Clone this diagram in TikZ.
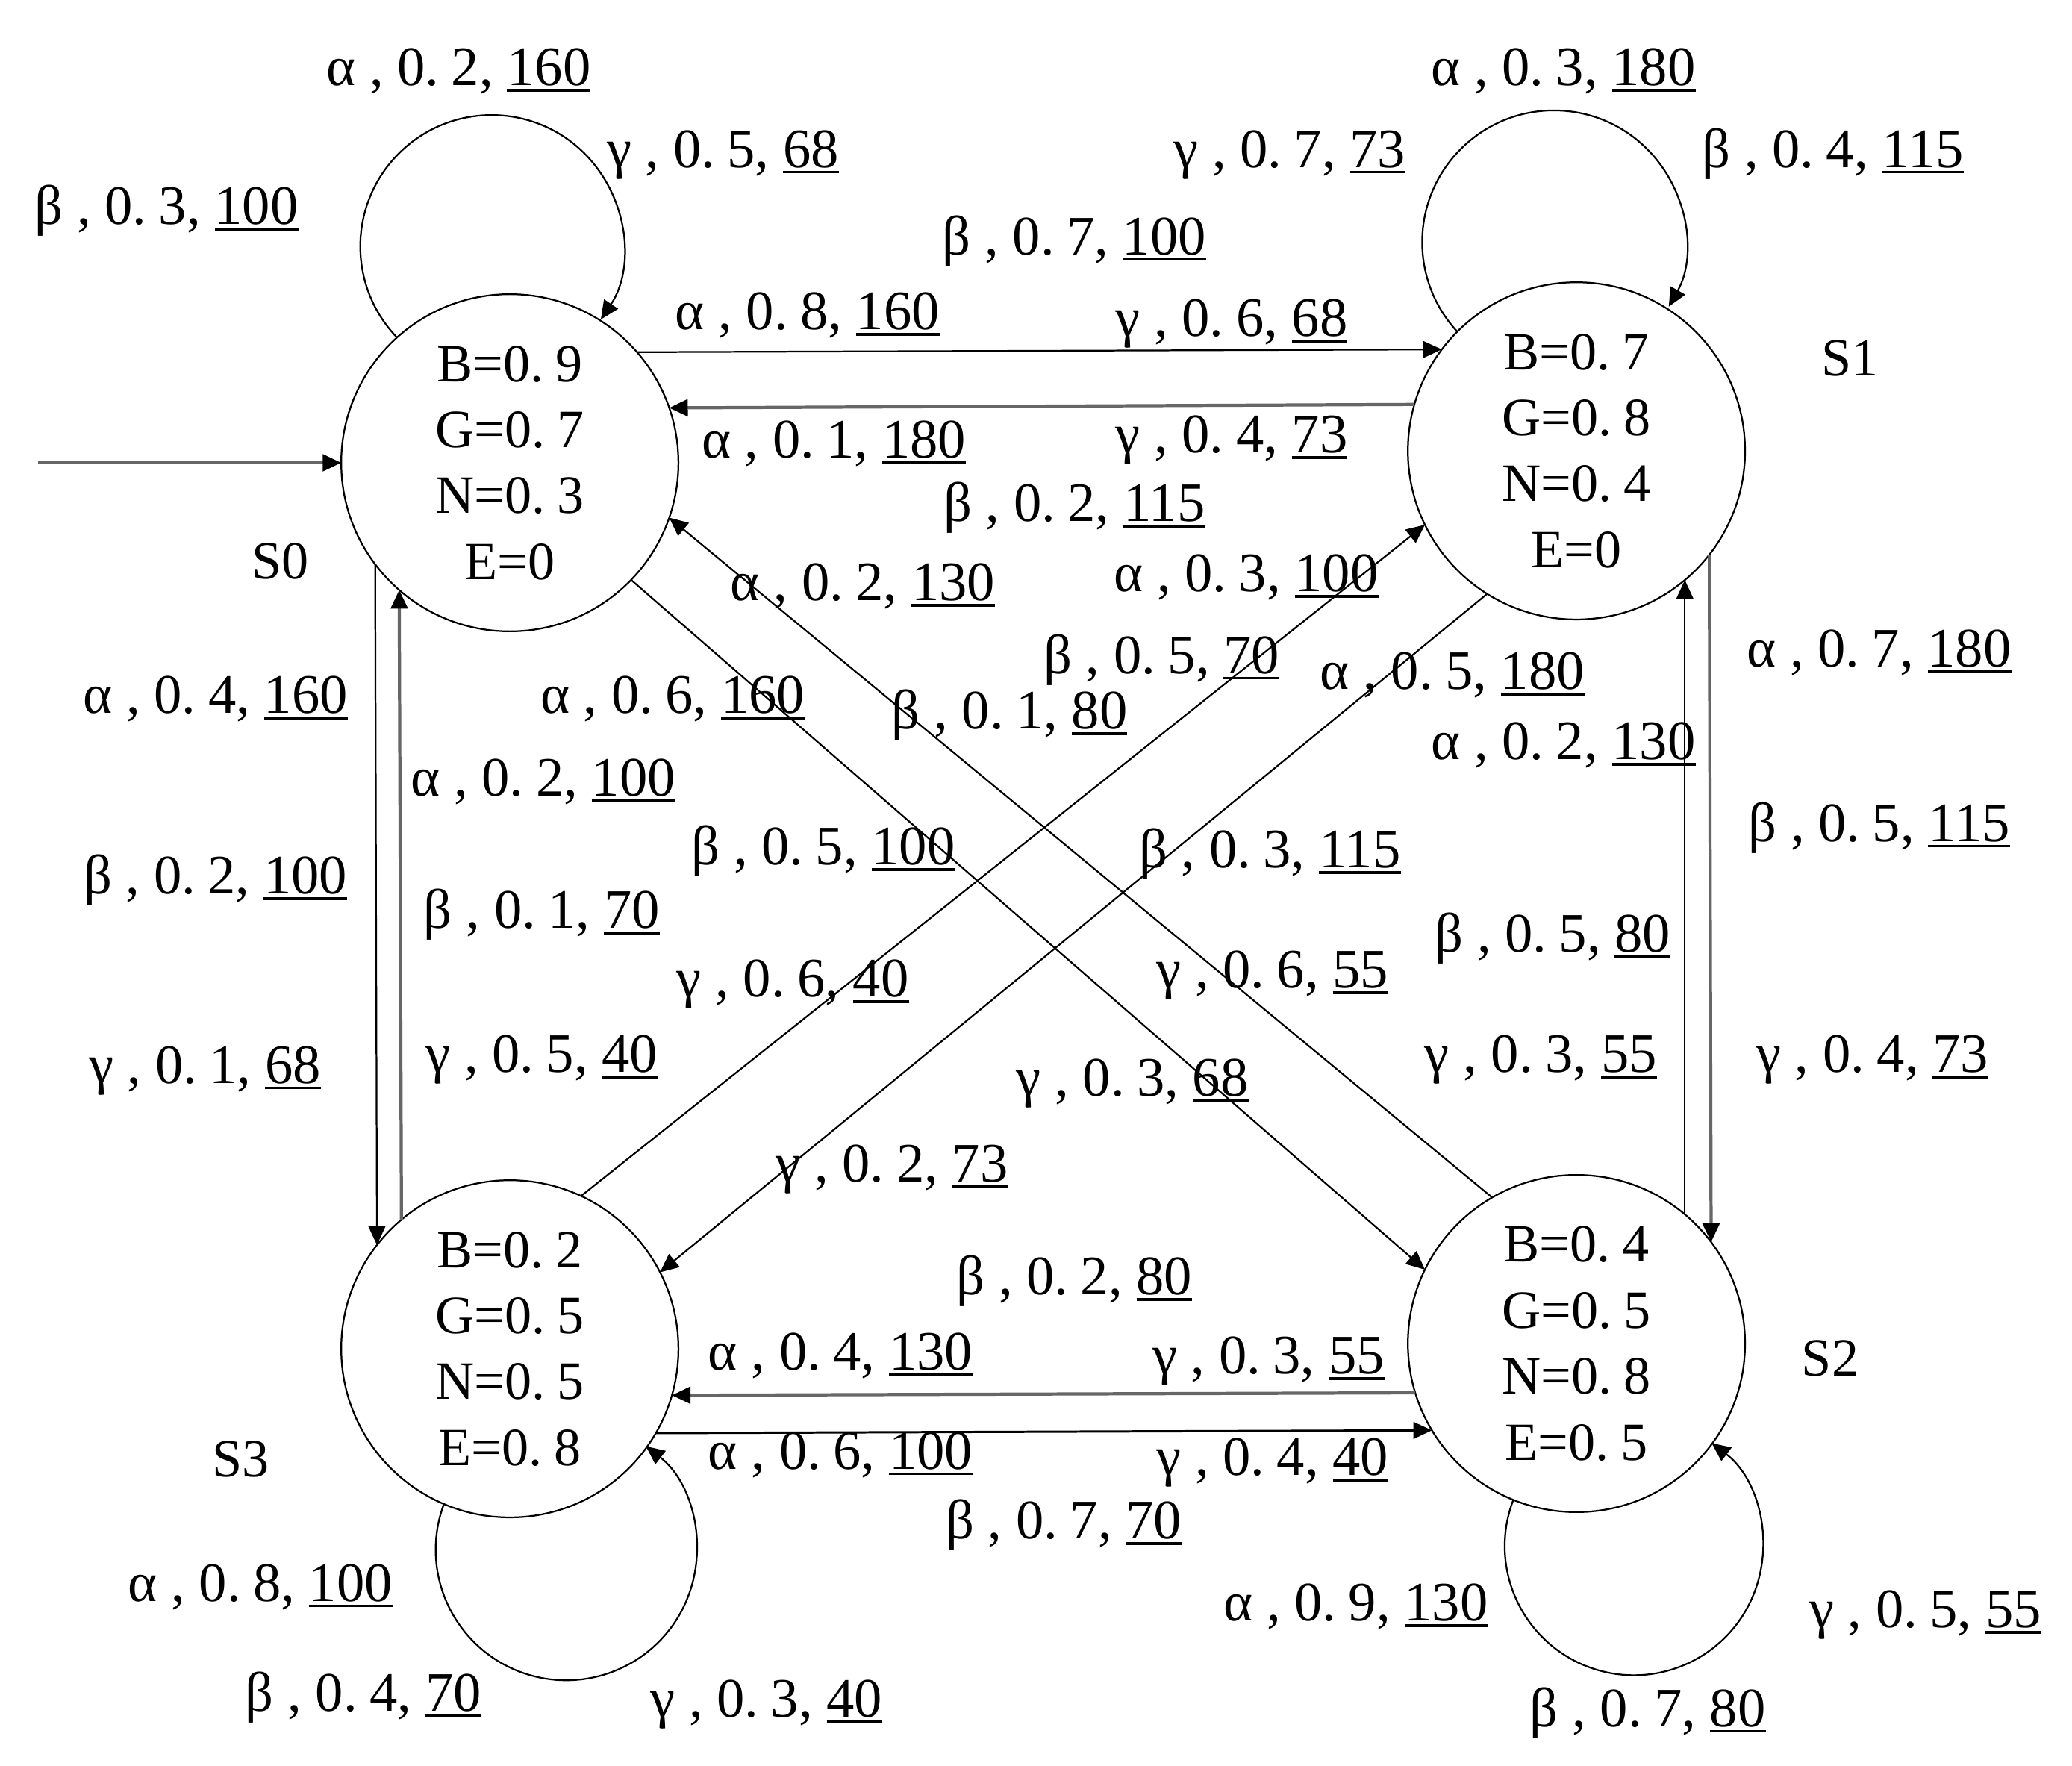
\documentclass[tikz,border=0pt]{standalone}
\usepackage{fontspec}
\setmainfont{Liberation Serif}
\usetikzlibrary{arrows.meta}
\newcommand\dg[1]{0.\kern0.22em#1}
\newcommand\uln[1]{\leavevmode\setbox0=\hbox{#1}\rlap{\vrule width\wd0 height -0.06em depth 0.11em}\box0}
\newcommand\lb[3]{#1 , \dg{#2}, \uln{#3}}
\begin{document}
\begin{tikzpicture}[x=0.25mm,y=-0.25mm,
  every node/.style={font=\fontsize{29}{35.5}\selectfont},
  st/.style={circle,draw,line width=0.9pt,minimum size=181.5pt,inner sep=0pt,outer sep=0pt,align=center},
  lbl/.style={inner sep=0pt,text height=20.8pt,text depth=0pt,font=\fontsize{30}{36}\selectfont},
  sl/.style={inner sep=0pt,text height=20.3pt,text depth=0pt},
  ed/.style={line width=0.9pt,-{Triangle[length=10pt,width=9pt,color=black]}},
  edg/.style={line width=1.7pt,draw=black!60,-{Triangle[length=10pt,width=9pt,color=black]}},
]
\useasboundingbox (0,0) rectangle (1568,1336);

% states
\node[st] (S0) at (385.8,350.2) {B=\dg9\\G=\dg7\\N=\dg3\\E=0};
\node[st] (S1) at (1193,341.2) {B=\dg7\\G=\dg8\\N=\dg4\\E=0};
\node[st] (S2) at (1193,1016.7) {B=\dg4\\G=\dg5\\N=\dg8\\E=\dg5};
\node[st] (S3) at (385.8,1020.7) {B=\dg2\\G=\dg5\\N=\dg5\\E=\dg8};

\node[sl] (n0) at (212,424) {S0};
\node[sl] (n1) at (1400,270) {S1};
\node[sl] (n2) at (1385,1027) {S2};
\node[sl] (n3) at (182,1103) {S3};

% initial arrow
\coordinate (init) at (28.8,350.2);
\draw[edg] (init) -- (S0.west);

% horizontal edges
\draw[ed] (S0.41.6) -- (S1.143.6);
\draw[edg] (S1.164.6) -- (S0.19.7);
\draw[edg] (S2.197.2) -- (S3.344.6);
\draw[ed,line width=1.2pt] (S3.330.3) -- (S2.211.8);

% vertical edges
\draw[ed] (S0.217.6) -- (S3.142.4);
\draw[edg] (S3.130.7) -- (S0.229.3);
\draw[ed] (S2.50) -- (S1.310);
\draw[edg] (S1.322.6) -- (S2.37.4);

% diagonals
\draw[ed] (S0.-44.8) -- (S2.154);
\draw[ed] (S2.120.8) -- (S0.-19.6);
\draw[ed] (S3.65.3) -- (S1.206.5);
\draw[ed] (S1.238.3) -- (S3.27.7);

% self loops
\draw[ed] (S0.132.4) arc[start angle=136.1,end angle=393.8,radius=99.4];
\draw[ed] (S1.135.9) arc[start angle=137.2,end angle=389.3,radius=99.7];
\draw[ed] (S2.248.3) arc[start angle=201,end angle=-52.9,radius=97.7];
\draw[ed] (S3.247.4) arc[start angle=200.5,end angle=-52.4,radius=98.8];

% labels
\node[lbl] (l1) at (347,50) {\lb{α}{2}{160}};
\node[lbl] (l2) at (547,112) {\lb{γ}{5}{68}};
\node[lbl] (l3) at (126,155) {\lb{β}{3}{100}};
\node[lbl] (l4) at (1183,50) {\lb{α}{3}{180}};
\node[lbl] (l5) at (976,112) {\lb{γ}{7}{73}};
\node[lbl] (l6) at (1387,112) {\lb{β}{4}{115}};
\node[lbl] (l7) at (813,178) {\lb{β}{7}{100}};
\node[lbl] (l8) at (611,235) {\lb{α}{8}{160}};
\node[lbl] (l9) at (932,240) {\lb{γ}{6}{68}};
\node[lbl] (l11) at (631,332) {\lb{α}{1}{180}};
\node[lbl] (l12) at (932,328) {\lb{γ}{4}{73}};
\node[lbl] (l13) at (813,380) {\lb{β}{2}{115}};
\node[lbl] (l15) at (653,440) {\lb{α}{2}{130}};
\node[lbl] (l16) at (943,433) {\lb{α}{3}{100}};
\node[lbl] (l17) at (879,495) {\lb{β}{5}{70}};
\node[lbl] (l18) at (1099,507) {\lb{α}{5}{180}};
\node[lbl] (l19) at (1422,490) {\lb{α}{7}{180}};
\node[lbl] (l20) at (163,525) {\lb{α}{4}{160}};
\node[lbl] (l21) at (509,525) {\lb{α}{6}{160}};
\node[lbl] (l22) at (764,537) {\lb{β}{1}{80}};
\node[lbl] (l23) at (1183,560) {\lb{α}{2}{130}};
\node[lbl] (l24) at (411,588) {\lb{α}{2}{100}};
\node[lbl] (l25) at (1422,622) {\lb{β}{5}{115}};
\node[lbl] (l26) at (623,640) {\lb{β}{5}{100}};
\node[lbl] (l27) at (961,642) {\lb{β}{3}{115}};
\node[lbl] (l28) at (163,662) {\lb{β}{2}{100}};
\node[lbl] (l29) at (410,688) {\lb{β}{1}{70}};
\node[lbl] (l30) at (1175,706) {\lb{β}{5}{80}};
\node[lbl] (l31) at (600,740) {\lb{γ}{6}{40}};
\node[lbl] (l32) at (963,733) {\lb{γ}{6}{55}};
\node[lbl] (l33) at (155,805) {\lb{γ}{1}{68}};
\node[lbl] (l34) at (410,797) {\lb{γ}{5}{40}};
\node[lbl] (l35) at (1166,797) {\lb{γ}{3}{55}};
\node[lbl] (l36) at (1417,797) {\lb{γ}{4}{73}};
\node[lbl] (l37) at (857,815) {\lb{γ}{3}{68}};
\node[lbl] (l38) at (675,880) {\lb{γ}{2}{73}};
\node[lbl] (l39) at (813,965) {\lb{β}{2}{80}};
\node[lbl] (l40) at (636,1022) {\lb{α}{4}{130}};
\node[lbl] (l41) at (960,1025) {\lb{γ}{3}{55}};
\node[lbl] (l43) at (636,1097) {\lb{α}{6}{100}};
\node[lbl] (l44) at (963,1102) {\lb{γ}{4}{40}};
\node[lbl] (l46) at (805,1150) {\lb{β}{7}{70}};
\node[lbl] (l47) at (197,1197) {\lb{α}{8}{100}};
\node[lbl] (l48) at (1026,1212) {\lb{α}{9}{130}};
\node[lbl] (l49) at (1457,1217) {\lb{γ}{5}{55}};
\node[lbl] (l50) at (275,1280) {\lb{β}{4}{70}};
\node[lbl] (l51) at (580,1285) {\lb{γ}{3}{40}};
\node[lbl] (l52) at (1247,1292) {\lb{β}{7}{80}};
\end{tikzpicture}
\end{document}
